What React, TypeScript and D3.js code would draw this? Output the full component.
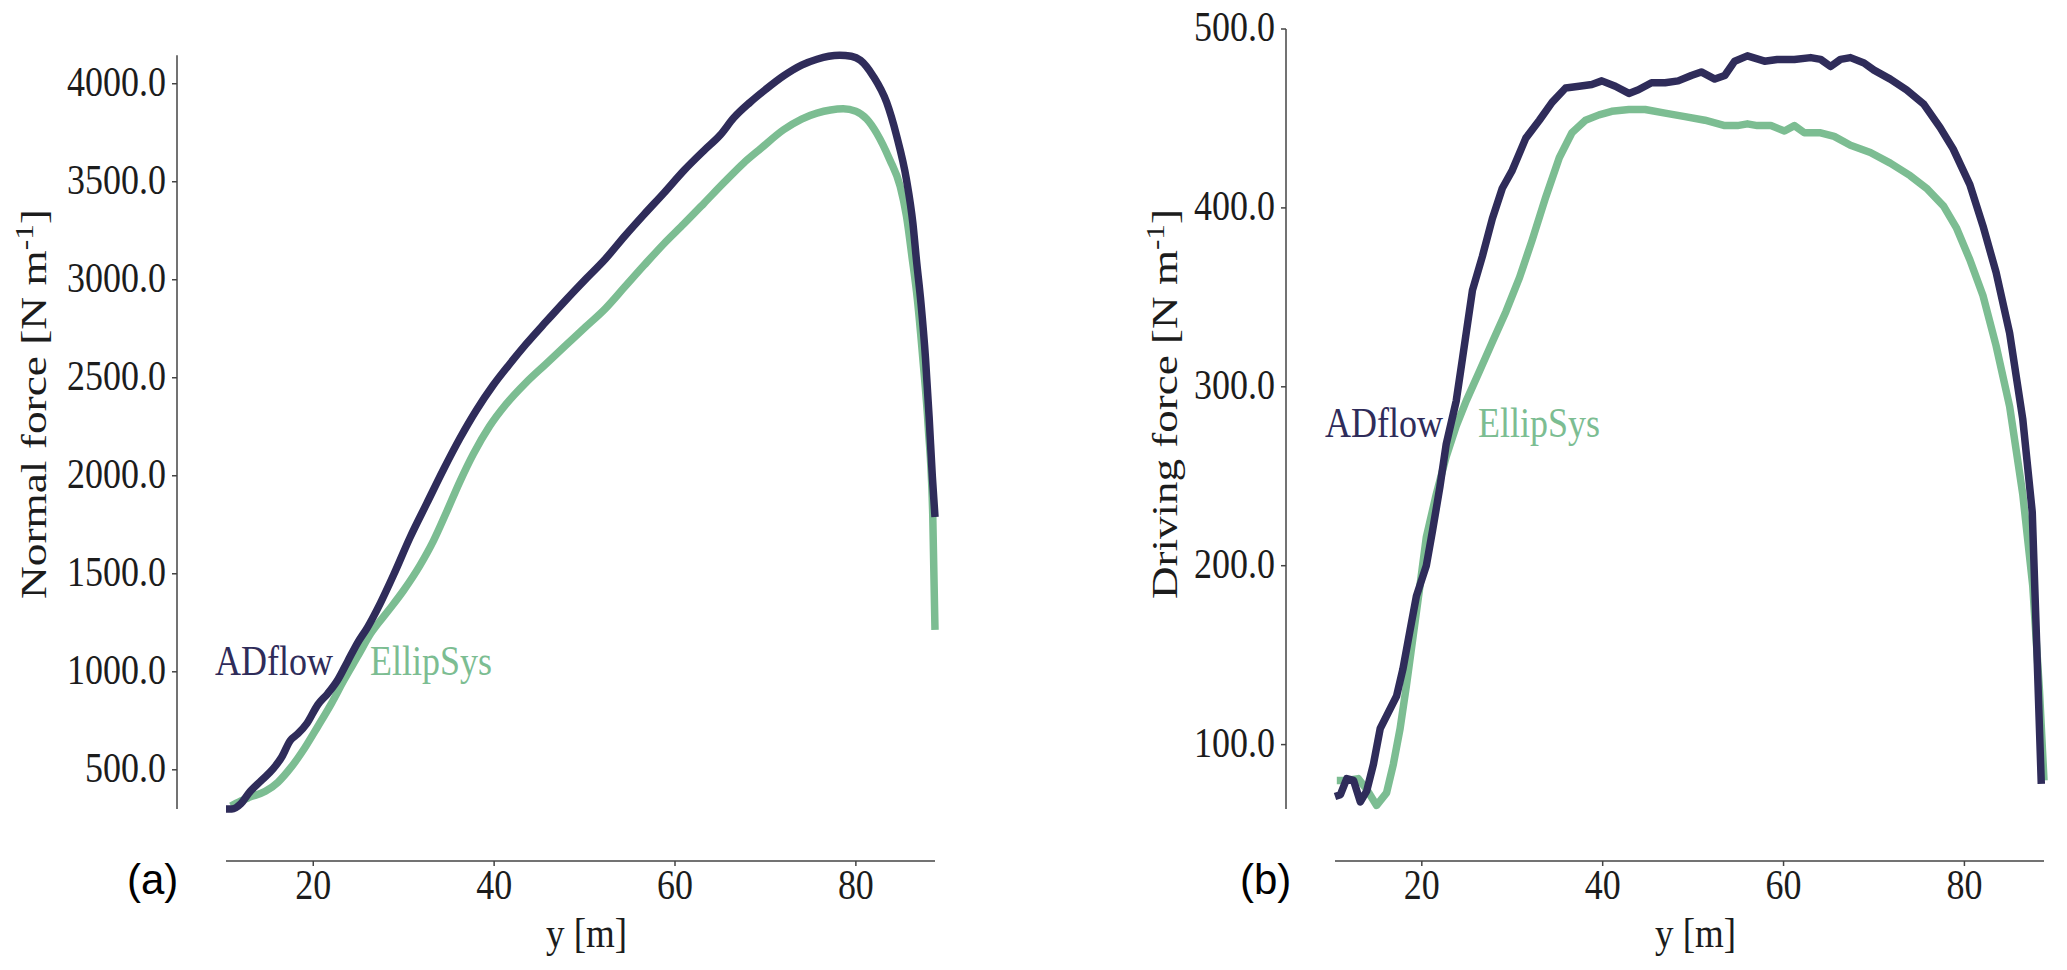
import React from "react";
import * as d3 from "d3";

// ---- data (span y [m], force [N/m]) ----
const normalSpanAD = [10.35, 11.0, 12.0, 12.85, 14.3, 15.6, 16.5, 17.45, 18.3, 19.3, 20.5, 21.6, 22.7, 23.8, 24.9, 26.0, 27.45, 28.9, 30.7, 32.55, 34.4, 36.2, 38.0, 39.85, 41.7, 43.5, 45.7, 47.9, 50.1, 52.3, 54.45, 56.6, 58.8, 61.0, 63.2, 65.0, 66.5, 68.3, 70.0, 72.0, 74.0, 75.7, 77.0, 78.2, 79.5, 80.5, 81.9, 83.4, 84.5, 85.6, 86.3, 86.7, 87.2, 87.7, 88.1, 88.45, 88.75];
const normalAD = [300, 300, 327, 380, 447, 507, 564, 649, 684, 737, 832, 889, 958, 1053, 1148, 1227, 1353, 1496, 1685, 1859, 2032, 2190, 2332, 2459, 2569, 2670, 2784, 2895, 3002, 3106, 3223, 3334, 3444, 3558, 3659, 3738, 3826, 3905, 3970, 4040, 4095, 4125, 4140, 4145, 4140, 4120, 4040, 3905, 3735, 3510, 3290, 3100, 2880, 2600, 2300, 2000, 1790];

const normalSpanES = [10.9, 11.5, 12.85, 14.7, 16.1, 17.6, 19.05, 20.5, 22.0, 23.4, 24.9, 26.35, 28.2, 30.0, 31.8, 33.3, 34.7, 36.2, 37.7, 39.5, 41.3, 43.5, 45.7, 47.9, 50.1, 52.3, 54.45, 56.6, 58.8, 61.0, 63.2, 65.4, 67.6, 69.5, 72.0, 74.0, 75.7, 77.2, 78.6, 80.0, 81.2, 82.3, 83.75, 84.9, 85.6, 86.2, 86.8, 87.4, 88.0, 88.5, 88.75];
const normalES = [315, 330, 358, 390, 437, 516, 611, 721, 838, 958, 1078, 1195, 1306, 1416, 1543, 1669, 1811, 1969, 2111, 2253, 2364, 2474, 2569, 2664, 2759, 2853, 2964, 3075, 3185, 3286, 3390, 3495, 3596, 3670, 3765, 3820, 3850, 3866, 3872, 3860, 3820, 3748, 3612, 3476, 3323, 3119, 2900, 2600, 2250, 1800, 1214];

const drivingSpanAD = [10.4, 11.0, 11.7, 12.45, 13.2, 13.9, 14.65, 15.4, 16.1, 17.2, 17.9, 18.7, 19.4, 20.5, 21.2, 22.0, 22.7, 23.8, 24.5, 25.6, 26.7, 27.8, 28.9, 30.0, 31.5, 33.0, 34.4, 35.9, 37.4, 38.8, 39.9, 41.4, 42.9, 43.95, 45.4, 46.9, 48.35, 49.8, 50.9, 52.4, 53.5, 54.6, 56.0, 57.9, 59.3, 61.2, 63.0, 64.1, 65.2, 66.3, 67.4, 68.9, 70.0, 71.8, 73.6, 75.5, 77.3, 78.75, 80.6, 82.05, 83.5, 85.0, 86.45, 87.5, 87.9, 88.5];
const drivingAD = [71, 72, 81, 80, 68, 74, 89, 109, 116, 127, 142, 164, 183, 200, 220, 244, 268, 292, 316, 354, 373, 394, 411, 421, 439, 449, 459, 467, 468, 469, 471, 468, 464, 466, 470, 470, 471, 474, 476, 472, 474, 482, 485, 482, 483, 483, 484, 483, 479, 483, 484, 481, 477, 472, 466, 458, 445, 433, 413, 390, 364, 330, 282, 230, 170, 78];

const drivingSpanES = [10.6, 11.7, 12.97, 13.9, 15.0, 16.1, 16.85, 17.6, 18.3, 19.05, 19.8, 20.5, 21.6, 22.7, 23.8, 24.9, 26.4, 27.8, 29.3, 30.8, 32.2, 33.7, 35.2, 36.6, 38.1, 39.6, 41.0, 42.9, 44.7, 46.9, 49.1, 51.3, 53.5, 54.9, 56.0, 57.1, 58.6, 60.1, 61.2, 62.3, 64.1, 65.6, 67.4, 69.6, 71.8, 74.0, 75.8, 77.7, 79.1, 80.6, 82.05, 83.5, 85.0, 86.45, 87.55, 88.3, 88.8];
const drivingES = [80, 80, 81, 75, 66, 73, 89, 109, 133, 161, 189, 216, 240, 261, 278, 292, 309, 325, 342, 361, 382, 406, 428, 442, 449, 452, 454, 455, 455, 453, 451, 449, 446, 446, 447, 446, 446, 443, 446, 442, 442, 440, 435, 431, 425, 418, 411, 401, 389, 371, 351, 323, 289, 240, 189, 130, 80];

const seriesNames = ["ADflow", "EllipSys"];
const seriesColors = ["#2f2c5a", "#7cbd92"];
const xTicks = [20, 40, 60, 80];
const normalTicks = [500, 1000, 1500, 2000, 2500, 3000, 3500, 4000];
const drivingTicks = [100, 200, 300, 400, 500];

const SERIF = "'Liberation Serif', 'Times New Roman', serif";
const SANS = "'Liberation Sans', Arial, sans-serif";
const STRETCH = 1.15;
const AXIS = "#444";
const TEXT = "#1c1c1c";
const fmt = d3.format(".1f");

function zip(xs, ys) {
  return xs.map((v, i) => [v, ys[i]]);
}

function Panel({ xDomain, xRange, yDomain, yRange, yAxisX, xAxisY, yTicks, series, curve, yLabel, yLabelX, tag, tagX, labelAt }) {
  const x = d3.scaleLinear().domain(xDomain).range(xRange);
  const y = d3.scaleLinear().domain(yDomain).range(yRange);
  const line = d3.line().x((d) => x(d[0])).y((d) => y(d[1])).curve(curve);
  const cy = 404;

  return (
    <g>
      {/* y spine + ticks */}
      <line x1={yAxisX} x2={yAxisX} y1={yRange[0]} y2={yRange[1]} stroke={AXIS} strokeWidth={1.5} />
      {yTicks.map((t) => (
        <g key={t}>
          <line x1={yAxisX - 5} x2={yAxisX} y1={y(t)} y2={y(t)} stroke={AXIS} strokeWidth={1.5} />
          <text
            transform={`translate(${yAxisX - 11},${y(t) + 12}) scale(1,${STRETCH})`}
            textAnchor="end"
            fontFamily={SERIF}
            fontSize={36}
            fill={TEXT}
          >
            {fmt(t)}
          </text>
        </g>
      ))}
      {/* x spine + ticks */}
      <line x1={xRange[0]} x2={xRange[1]} y1={xAxisY} y2={xAxisY} stroke={AXIS} strokeWidth={1.5} />
      {xTicks.map((t) => (
        <g key={t}>
          <line x1={x(t)} x2={x(t)} y1={xAxisY} y2={xAxisY + 5} stroke={AXIS} strokeWidth={1.5} />
          <text
            transform={`translate(${x(t)},${xAxisY + 38}) scale(1,${STRETCH})`}
            textAnchor="middle"
            fontFamily={SERIF}
            fontSize={36}
            fill={TEXT}
          >
            {t}
          </text>
        </g>
      ))}
      <text
        transform={`translate(${(xRange[0] + xRange[1]) / 2 + 6},${xAxisY + 86}) scale(1,${STRETCH})`}
        textAnchor="middle"
        fontFamily={SERIF}
        fontSize={37}
        fill={TEXT}
      >
        y [m]
      </text>
      <text
        transform={`translate(${yLabelX},${cy}) rotate(-90)`}
        textAnchor="middle"
        fontFamily={SERIF}
        fontSize={36}
        fill={TEXT}
        textLength={390}
        lengthAdjust="spacingAndGlyphs"
      >
        {yLabel} [N  m
        <tspan dy={-13} fontSize={25}>-1</tspan>
        <tspan dy={13}>]</tspan>
      </text>
      <text x={tagX} y={894} fontFamily={SANS} fontSize={42} fill="#000">
        {tag}
      </text>

      {/* curves: EllipSys under ADflow */}
      {series
        .slice()
        .reverse()
        .map((s) => (
          <path key={s.name} d={line(s.points)} fill="none" stroke={s.color} strokeWidth={7.5} strokeLinejoin="round" />
        ))}
      {series.map((s, i) => (
        <text
          key={s.name}
          transform={`translate(${x(labelAt[i][0])},${y(labelAt[i][1])}) scale(1,${STRETCH})`}
          fontFamily={SERIF}
          fontSize={36}
          fill={s.color}
        >
          {s.name}
        </text>
      ))}
    </g>
  );
}

export default function App() {
  const normalSeries = [
    { name: seriesNames[0], color: seriesColors[0], points: zip(normalSpanAD, normalAD) },
    { name: seriesNames[1], color: seriesColors[1], points: zip(normalSpanES, normalES) },
  ];
  const drivingSeries = [
    { name: seriesNames[0], color: seriesColors[0], points: zip(drivingSpanAD, drivingAD) },
    { name: seriesNames[1], color: seriesColors[1], points: zip(drivingSpanES, drivingES) },
  ];

  return (
    <svg
      width={2067}
      height={970}
      style={{ position: "absolute", left: 0, top: 0, background: "#fff" }}
    >
      <Panel
        xDomain={[10.35, 88.75]}
        xRange={[226, 935]}
        yDomain={[300, 4145]}
        yRange={[809, 55.3]}
        yAxisX={177}
        xAxisY={861}
        yTicks={normalTicks}
        series={normalSeries}
        curve={d3.curveMonotoneX}
        yLabel="Normal force"
        yLabelX={46}
        tag="(a)"
        tagX={127}
        labelAt={[
          [9.13, 984],
          [26.27, 984],
        ]}
      />
      <Panel
        xDomain={[10.4, 88.8]}
        xRange={[1335, 2044]}
        yDomain={[64, 500]}
        yRange={[809, 29]}
        yAxisX={1286}
        xAxisY={861}
        yTicks={drivingTicks}
        series={drivingSeries}
        curve={d3.curveLinear}
        yLabel="Driving force"
        yLabelX={1177}
        tag="(b)"
        tagX={1240}
        labelAt={[
          [9.29, 272],
          [26.21, 272],
        ]}
      />
    </svg>
  );
}
